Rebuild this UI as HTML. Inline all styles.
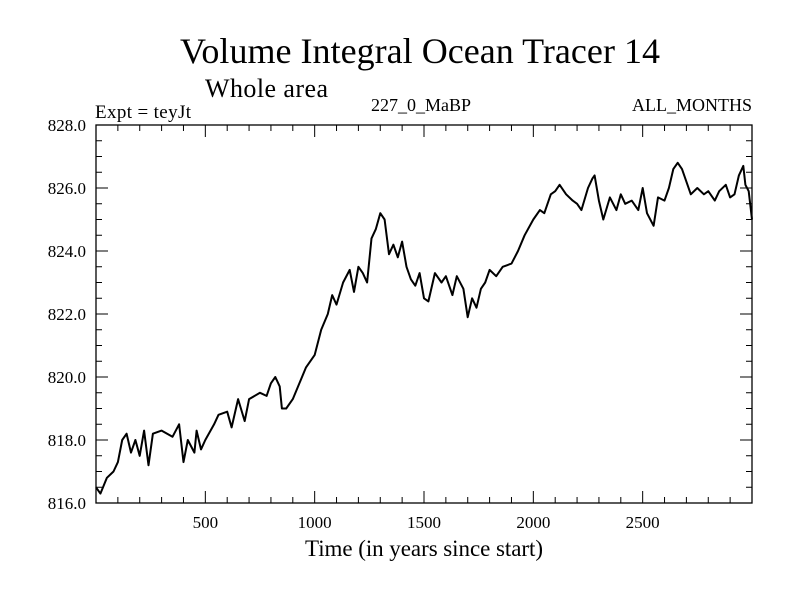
<!DOCTYPE html>
<html><head><meta charset="utf-8"><style>
html,body{margin:0;padding:0;background:#fff;}
svg{display:block;font-family:"Liberation Serif",serif;}
</style></head><body>
<svg id="chart" width="800" height="600">
<text x="420" y="63" font-size="36" text-anchor="middle" textLength="480">Volume Integral Ocean Tracer 14</text>
<text x="205" y="97" font-size="26" textLength="123">Whole area</text>
<text x="95" y="118" font-size="19" textLength="96">Expt = teyJt</text>
<text x="421" y="111" font-size="18" text-anchor="middle">227_0_MaBP</text>
<text x="752" y="111" font-size="18" text-anchor="end">ALL_MONTHS</text>
<text x="424" y="556" font-size="23" text-anchor="middle" textLength="238">Time (in years since start)</text>
<g id="axes"></g>
<g id="plot"></g>
</svg>
<script>
const years=[0,20,50,80,100,120,140,160,180,200,220,240,260,300,350,380,400,420,450,460,480,500,540,560,600,620,650,680,700,750,780,800,820,840,850,870,900,930,960,1000,1030,1060,1080,1100,1130,1160,1180,1200,1220,1240,1260,1280,1300,1320,1340,1360,1380,1400,1420,1440,1460,1480,1500,1520,1550,1580,1600,1630,1650,1680,1700,1720,1740,1760,1780,1800,1830,1860,1900,1930,1960,2000,2030,2050,2080,2100,2120,2150,2180,2200,2220,2250,2270,2280,2300,2320,2350,2380,2400,2420,2450,2480,2500,2520,2550,2570,2600,2620,2640,2660,2680,2700,2720,2750,2780,2800,2830,2850,2880,2900,2920,2940,2960,2970,2985,3000];
const values=[816.5,816.3,816.8,817.0,817.3,818.0,818.2,817.6,818.0,817.5,818.3,817.2,818.2,818.3,818.1,818.5,817.3,818.0,817.6,818.3,817.7,818.0,818.5,818.8,818.9,818.4,819.3,818.6,819.3,819.5,819.4,819.8,820.0,819.7,819.0,819.0,819.3,819.8,820.3,820.7,821.5,822.0,822.6,822.3,823.0,823.4,822.7,823.5,823.3,823.0,824.4,824.7,825.2,825.0,823.9,824.2,823.8,824.3,823.5,823.1,822.9,823.3,822.5,822.4,823.3,823.0,823.2,822.6,823.2,822.8,821.9,822.5,822.2,822.8,823.0,823.4,823.2,823.5,823.6,824.0,824.5,825.0,825.3,825.2,825.8,825.9,826.1,825.8,825.6,825.5,825.3,826.0,826.3,826.4,825.6,825.0,825.7,825.3,825.8,825.5,825.6,825.3,826.0,825.2,824.8,825.7,825.6,826.0,826.6,826.8,826.6,826.2,825.8,826.0,825.8,825.9,825.6,825.9,826.1,825.7,825.8,826.4,826.7,826.1,825.9,825.0];
const xTicks=[500,1000,1500,2000,2500];
const yTicks=[816,818,820,822,824,826,828];
const yTickLabels=["816.0","818.0","820.0","822.0","824.0","826.0","828.0"];
const L=96,R=752,T=125,B=503,X0=0,X1=3000,Y0=816,Y1=828;
const sx=v=>L+(v-X0)/(X1-X0)*(R-L);
const sy=v=>B-(v-Y0)/(Y1-Y0)*(B-T);
const NS="http://www.w3.org/2000/svg";
const axes=document.getElementById('axes'),plot=document.getElementById('plot');
function mk(tag,attrs,parent){const e=document.createElementNS(NS,tag);for(const k in attrs)e.setAttribute(k,attrs[k]);parent.appendChild(e);return e;}
const frame=mk('rect',{x:L,y:T,width:R-L,height:B-T,fill:'none',stroke:'#000','stroke-width':1.3},axes);


let td='';
for(let v=100;v<X1;v+=100){const x=sx(v),len=(v%500===0)?12:6;td+=`M${x},${B}v${-len}M${x},${T}v${len}`;}
for(let v=Y0+0.5;v<Y1;v+=0.5){const y=sy(v),len=(Math.abs(v%2)<1e-9)?12:6;td+=`M${L},${y}h${len}M${R},${y}h${-len}`;}
const ticks=mk('path',{d:td,stroke:'#000','stroke-width':1,fill:'none'},axes);


xTicks.forEach(v=>{const t=mk('text',{x:sx(v),y:B+25,'font-size':17,'text-anchor':'middle'},axes);t.textContent=v;

});
yTicks.forEach((v,i)=>{const t=mk('text',{x:L-10,y:sy(v)+6,'font-size':17,'text-anchor':'end'},axes);t.textContent=yTickLabels[i];

});
const d=years.map((y,i)=>(i?'L':'M')+sx(y).toFixed(1)+','+sy(values[i]).toFixed(1)).join('');
const line=mk('path',{d:d,stroke:'#000','stroke-width':2,fill:'none','stroke-linejoin':'round'},plot);


</script>
</body></html>
